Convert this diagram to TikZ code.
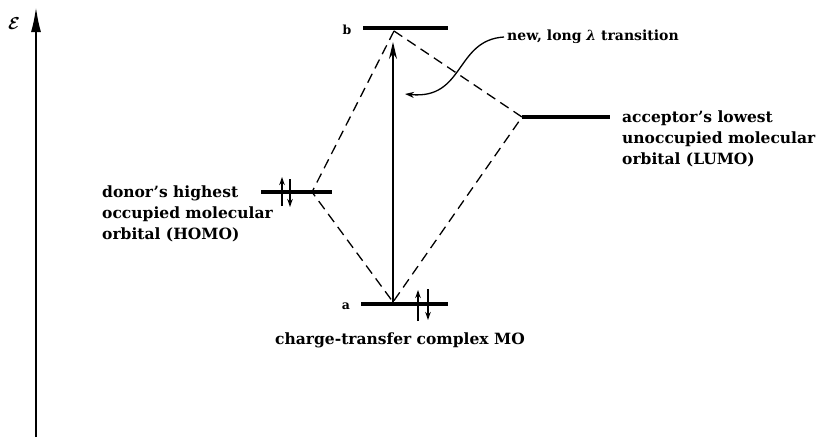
\documentclass[tikz,border=0pt]{standalone}
\usepackage{fontspec}
\usepackage{bm}
\setmainfont{DejaVu Serif}
\usetikzlibrary{arrows.meta}
\begin{document}
\begin{tikzpicture}[x=1pt,y=-1pt,
  level/.style={line width=3.2pt},
  corr/.style={line width=1.3pt, dash pattern=on 10pt off 6pt},
  lbl/.style={font=\bfseries\fontsize{15.5}{21}\selectfont, align=left, inner sep=0pt},
  small/.style={font=\bfseries\fontsize{14}{16}\selectfont, inner sep=0pt},
  letter/.style={font=\bfseries\fontsize{12.5}{12}\selectfont, inner sep=0pt},
  spin/.style={line width=1.5pt, -{Stealth[length=8pt,width=5.5pt]}}]
\useasboundingbox (0,0) rectangle (823,437);

% energy axis
\coordinate (axB) at (36,437);
\coordinate (axT) at (36,7);
\draw[line width=2pt, -{Latex[length=25pt,width=10pt]}] (axB) -- (axT);
\node (E) at (14,24) {\fontsize{17}{17}\selectfont$\bm{\mathcal{E}}$};

% levels
\coordinate (bL) at (363,28);  \coordinate (bR) at (448,28);
\coordinate (aL) at (361,304); \coordinate (aR) at (448,304);
\coordinate (hL) at (261,192); \coordinate (hR) at (332,192);
\coordinate (lL) at (522,117); \coordinate (lR) at (610,117);
\draw[level] (bL) -- (bR);
\draw[level] (aL) -- (aR);
\draw[level] (hL) -- (hR);
\draw[level] (lL) -- (lR);

\coordinate (bM) at (394,31);
\coordinate (aM) at (393,302);
\coordinate (hM) at (312,192);

% correlation lines
\draw[corr] (bM) -- (hM) -- (aM);
\draw[corr] (bM) -- (lL) -- (aM);

% transition arrow
\coordinate (tTop) at (393,42);
\draw[line width=1.8pt, -{Stealth[length=17pt,width=8pt]}] (aM) -- (tTop);

% spins
\draw[spin] (282,206) -- (282,177);
\draw[spin] (290,179) -- (290,207);
\draw[spin] (418,321) -- (418,290);
\draw[spin] (428,289) -- (428,320);

% labels
\node[letter] (la) at (346,306) {a};
\node[letter] (lb) at (347,30) {b};
\node[lbl, anchor=west] (homo) at (102,214) {donor's highest\\occupied molecular\\orbital (HOMO)};
\node[lbl, anchor=west] (lumo) at (622,139) {acceptor's lowest\\unoccupied molecular\\orbital (LUMO)};
\node[lbl, anchor=center] (ct) at (400,340) {charge-transfer complex MO};
\node[small, anchor=west] (new) at (507,37) {new, long \textit{λ} transition};

% pointer
\coordinate (pEnd) at (405,94);
\draw[line width=1.3pt, -{Stealth[length=9pt,width=6pt]}] ([xshift=-3pt]new.west) .. controls (455,40) and (465,100) .. (pEnd);
\end{tikzpicture}
\end{document}
